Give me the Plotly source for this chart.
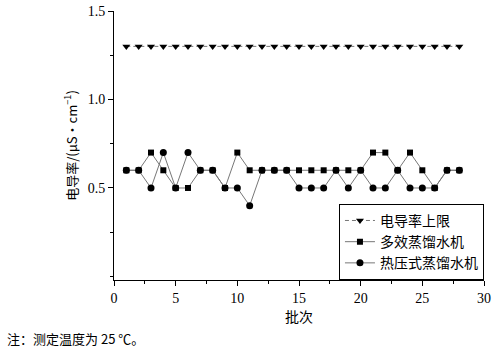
import plotly.graph_objects as go

batches = list(range(1, 29))
upper_limit = [1.3] * 28
multi_effect = [0.6, 0.6, 0.7, 0.6, 0.5, 0.5, 0.6, 0.6, 0.5, 0.7, 0.6, 0.6, 0.6, 0.6,
                0.6, 0.6, 0.6, 0.6, 0.6, 0.6, 0.7, 0.7, 0.6, 0.7, 0.6, 0.5, 0.6, 0.6]
thermo_comp = [0.6, 0.6, 0.5, 0.7, 0.5, 0.7, 0.6, 0.6, 0.5, 0.5, 0.4, 0.6, 0.6, 0.6,
               0.5, 0.5, 0.5, 0.6, 0.5, 0.6, 0.5, 0.5, 0.6, 0.5, 0.5, 0.5, 0.6, 0.6]
names = ["电导率上限", "多效蒸馏水机", "热压式蒸馏水机"]

serif = "Liberation Serif, Times New Roman, serif"
cjk = "Noto Sans CJK SC, sans-serif"

fig = go.Figure()
fig.add_trace(go.Scatter(x=batches, y=upper_limit, name=names[0], mode="lines+markers",
                         line=dict(color="#777777", width=1, dash="4px,3px"),
                         marker=dict(symbol="triangle-down", size=7, color="black")))
fig.add_trace(go.Scatter(x=batches, y=multi_effect, name=names[1], mode="lines+markers",
                         line=dict(color="#777777", width=1),
                         marker=dict(symbol="square", size=6, color="black")))
fig.add_trace(go.Scatter(x=batches, y=thermo_comp, name=names[2], mode="lines+markers",
                         line=dict(color="#777777", width=1),
                         marker=dict(symbol="circle", size=7, color="black")))

fig.update_layout(
    width=500, height=357,
    margin=dict(l=114, r=16, t=11, b=77, autoexpand=False),
    paper_bgcolor="white", plot_bgcolor="white",
    font=dict(family=serif, size=13, color="black"),
    legend=dict(x=0.608, y=0.283, xanchor="left", yanchor="top",
                bordercolor="black", borderwidth=1, bgcolor="white",
                font=dict(family=cjk, size=14, color="black"),
                tracegroupgap=0, itemwidth=30),
    xaxis=dict(range=[0, 30], tickvals=[0, 5, 10, 15, 20, 25, 30], automargin=False,
               ticklabeloverflow="allow",
               showline=True, linecolor="black", linewidth=1,
               ticks="outside", ticklen=5, tickcolor="black",
               minor=dict(ticks="outside", ticklen=3, dtick=2.5, tickcolor="black"),
               showgrid=False, zeroline=False,
               tickfont=dict(family=serif, size=14),
               title=dict(text="批次", font=dict(family=cjk, size=14), standoff=6)),
    yaxis=dict(range=[-0.02, 1.5], tickvals=[0.5, 1.0, 1.5], ticktext=["0.5", "1.0", "1.5"],
               automargin=False, ticklabeloverflow="allow",
               showline=True, linecolor="black", linewidth=1,
               ticks="outside", ticklen=5, tickcolor="black",
               minor=dict(ticks="outside", ticklen=3, dtick=0.25, tickcolor="black"),
               showgrid=False, zeroline=False,
               tickfont=dict(family=serif, size=14),
               title=dict(text="电导率/(μS·cm<sup>−1</sup>)", font=dict(family=cjk, size=13), standoff=7)),
)
fig.add_annotation(text="注：测定温度为 25 ℃。", xref="paper", yref="paper",
                   x=-109/370, y=-58/269, xanchor="left", yanchor="middle",
                   showarrow=False, font=dict(family=cjk, size=13, color="black"))

# remove the browser's default 8px body margin so the 500x357 figure fills the window
fig.write_html("out.html", config={"displayModeBar": False},
               post_script="document.body.style.margin='0px';")
